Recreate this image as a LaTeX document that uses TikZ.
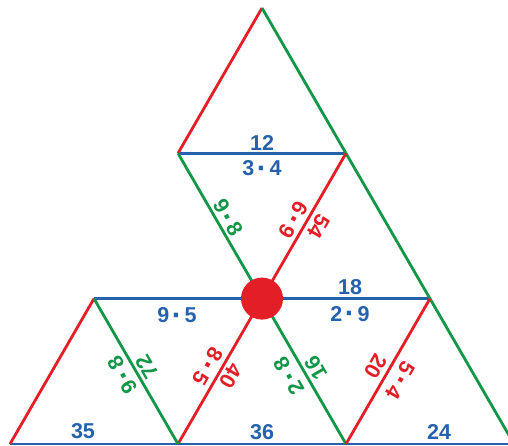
\documentclass[tikz,border=0pt]{standalone}
\usepackage{fontspec}
\setmainfont{Liberation Sans}
\definecolor{myblue}{RGB}{38,98,172}
\definecolor{mygreen}{RGB}{18,150,72}
\definecolor{myred}{RGB}{228,30,38}
\newcommand{\md}{\hspace{0.12em}\raisebox{-0.13em}{\scalebox{1.4}{·}}\hspace{0.12em}}
\begin{document}
\begin{tikzpicture}[x=1pt,y=-1pt,
  edge/.style={line width=2.8pt},
  bedge/.style={edge,draw=myblue},
  gedge/.style={edge,draw=mygreen},
  redge/.style={edge,draw=myred},
  lbl/.style={font=\bfseries\fontsize{21.5}{25}\selectfont,inner sep=0pt},
  lblb/.style={lbl,text=myblue},
  lblg/.style={lbl,text=mygreen},
  lblr/.style={lbl,text=myred}]
\useasboundingbox (0,0) rectangle (508,446);
\clip (0,0) rectangle (508,446);
\fill[white] (0,0) rectangle (508,446);
% vertices
\coordinate (a) at (262,8);
\coordinate (b1l) at (178,153.3);
\coordinate (b1r) at (346,153.3);
\coordinate (r21) at (94,298.6);
\coordinate (c) at (262,298.6);
\coordinate (r23) at (430,298.6);
\coordinate (r31) at (10,444);
\coordinate (r32) at (178,444);
\coordinate (r33) at (346,444);
\coordinate (r34) at (514,444);
% edges
\draw[bedge] (b1l) -- (b1r);
\draw[bedge] (r21) -- (r23);
\draw[bedge] (r31) -- (r34);
\draw[redge] (a) -- (b1l);
\draw[gedge] (a) -- (r34);
\draw[gedge] (b1l) -- (r33);
\draw[redge] (b1r) -- (r32);
\draw[redge] (r21) -- (r31);
\draw[gedge] (r21) -- (r32);
\draw[redge] (r23) -- (r33);
% centre dot
\node[circle,fill=myred,minimum size=42pt,inner sep=0pt] (dot) at (c) {};
% horizontal labels
\node[lblb] (t12) at (262,142.5) {12};
\node[lblb] (t34) at (262,169.5) {3\md 4};
\node[lblb] (t18) at (350,287.5) {18};
\node[lblb] (t29) at (350,315) {2\md 9};
\node[lblb] (t95) at (177,316.5) {9\md 5};
\node[lblb] (t35) at (83,431.5) {35};
\node[lblb] (t36) at (262,432) {36};
\node[lblb] (t24) at (439,432) {24};
% slanted labels
\path (b1l) -- (c) node[lblg,pos=0.48,rotate=-60,above=1pt] (s98a) {9\md 8};
\path (b1r) -- (c) node[lblr,pos=0.5,rotate=-120,below=4.5pt] (s69) {6\md 9}
                   node[lblr,pos=0.46,rotate=-120,above=5pt] (s54) {54};
\path (r21) -- (r32) node[lblg,pos=0.48,rotate=120,above=3pt] (s98b) {9\md 8}
                     node[lblg,pos=0.51,rotate=120,below=4pt] (s72) {72};
\path (c) -- (r32) node[lblr,pos=0.51,rotate=-120,below=5pt] (s85) {8\md 5}
                   node[lblr,pos=0.49,rotate=-120,above=4pt] (s40) {40};
\path (c) -- (r33) node[lblg,pos=0.48,rotate=120,above=5pt] (s28) {2\md 8}
                   node[lblg,pos=0.52,rotate=120,below=4.5pt] (s16) {16};
\path (r23) -- (r33) node[lblr,pos=0.51,rotate=-120,below=5pt] (s20) {20}
                     node[lblr,pos=0.51,rotate=-120,above=5pt] (s54b) {5\md 4};
\end{tikzpicture}
\end{document}
